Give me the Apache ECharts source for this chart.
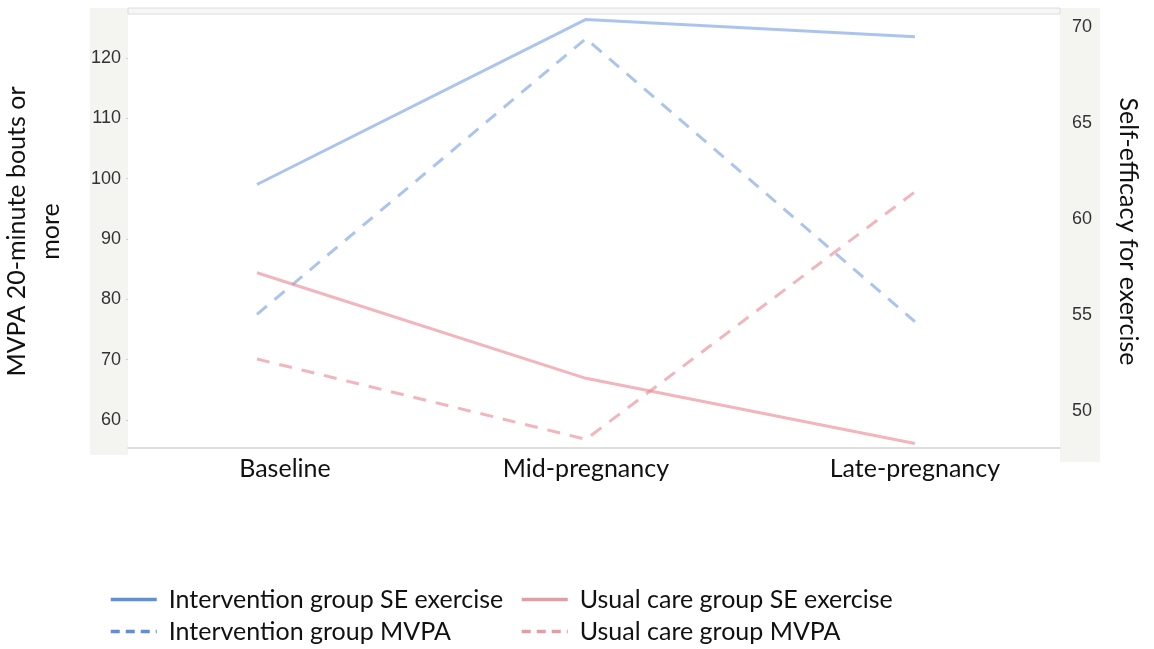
<!DOCTYPE html>
<html>
<head>
<meta charset="utf-8">
<script src="https://cdn.jsdelivr.net/npm/echarts@6/dist/echarts.min.js"></script>
<style>
  html, body { margin: 0; padding: 0; background: #fff; }
  #chart { width: 1154px; height: 649px; }
</style>
</head>
<body>
<div id="chart"></div>
<script>
// time points
const categories = ['Baseline', 'Mid-pregnancy', 'Late-pregnancy'];

// self-efficacy (right axis)
const interventionSE = [61.8, 70.4, 69.5];
const usualSE = [57.2, 51.7, 48.3];

// MVPA 20-minute bouts (left axis)
const interventionMVPA = [77.5, 123.2, 76.3];
const usualMVPA = [70.1, 56.8, 97.8];

const leftTicks = [60, 70, 80, 90, 100, 110, 120];
const rightTicks = [50, 55, 60, 65, 70];

const blue = 'rgba(120,160,228,0.62)';
const red = 'rgba(232,135,145,0.62)';
const labelFont = 'Lato, "Noto Sans", sans-serif';
const tickFont = '"Liberation Sans", Arial, sans-serif';

const pairs = (arr) => arr.map((v, i) => [i, v]);

const chart = echarts.init(document.getElementById('chart'));

const legendText = { fontSize: 25, fontFamily: labelFont, color: '#111', padding: [0, 0, 0, 7] };

const option = {
  animation: false,
  backgroundColor: '#fff',
  grid: { left: 128, right: 94, top: 15, bottom: 201, outerBoundsMode: 'none', containLabel: false },
  graphic: [
    // shaded axis strips and top rule
    { type: 'rect', z: -1, shape: { x: 90, y: 8, width: 38, height: 447 }, style: { fill: '#f4f4f1' } },
    { type: 'rect', z: -1, shape: { x: 1060, y: 8, width: 40, height: 454 }, style: { fill: '#f4f4f1' } },
    { type: 'rect', z: -1, shape: { x: 128, y: 8, width: 932, height: 6 }, style: { fill: '#f7f7f7', stroke: '#dcdcdc', lineWidth: 1 } }
  ],
  xAxis: {
    type: 'value',
    min: -0.392,
    max: 2.441,
    splitLine: { show: false },
    axisLine: { show: true, onZero: false, lineStyle: { color: '#d4d4d4', width: 1.5 } },
    axisTick: { show: false },
    axisLabel: {
      customValues: [0, 1, 2],
      formatter: (v) => (v === 0 ? '{b|' + categories[0] + '}' : categories[v]),
      rich: { b: { padding: [0, 0, 0, 56], fontSize: 25, fontFamily: labelFont, color: '#111' } },
      fontSize: 25,
      fontFamily: labelFont,
      color: '#111',
      margin: 8
    }
  },
  yAxis: [
    {
      type: 'value',
      position: 'left',
      min: 55.36,
      max: 127.1,
      name: 'MVPA 20-minute bouts or\nmore',
      nameLocation: 'middle',
      nameGap: 60,
      nameRotate: 90,
      nameTextStyle: { fontSize: 25, fontFamily: labelFont, color: '#111', lineHeight: 34 },
      splitLine: { show: false },
      axisLine: { show: false, onZero: false },
      axisTick: { show: true, customValues: leftTicks, length: 2, lineStyle: { color: '#cfcfcf' } },
      axisLabel: {
        customValues: leftTicks,
        fontSize: 18,
        fontFamily: tickFont,
        color: '#333',
        margin: 7
      }
    },
    {
      type: 'value',
      position: 'right',
      min: 48.07,
      max: 70.63,
      name: 'Self-efficacy for exercise',
      nameLocation: 'middle',
      nameGap: 56,
      nameRotate: -90,
      nameTextStyle: { fontSize: 25, fontFamily: labelFont, color: '#111' },
      splitLine: { show: false },
      axisLine: { show: false, onZero: false },
      axisTick: { show: false },
      axisLabel: {
        customValues: rightTicks,
        fontSize: 18,
        fontFamily: tickFont,
        color: '#333',
        margin: 12
      }
    }
  ],
  legend: [
    {
      left: 104,
      top: 582,
      orient: 'vertical',
      itemWidth: 46,
      itemHeight: 14,
      itemGap: 7,
      textStyle: legendText,
      itemStyle: { opacity: 0 },
      data: [
        { name: 'Intervention group SE exercise', lineStyle: { color: '#5f8fd6', width: 3.5 } },
        { name: 'Intervention group MVPA', lineStyle: { color: '#5f8fd6', width: 3.5, type: [9, 6] } }
      ]
    },
    {
      left: 515,
      top: 582,
      orient: 'vertical',
      itemWidth: 46,
      itemHeight: 14,
      itemGap: 7,
      textStyle: legendText,
      itemStyle: { opacity: 0 },
      data: [
        { name: 'Usual care group SE exercise', lineStyle: { color: '#e39ea3', width: 3.5 } },
        { name: 'Usual care group MVPA', lineStyle: { color: '#e39ea3', width: 3.5, type: [9, 6] } }
      ]
    }
  ],
  series: [
    {
      name: 'Intervention group SE exercise',
      type: 'line',
      yAxisIndex: 1,
      data: pairs(interventionSE),
      symbol: 'none',
      itemStyle: { color: blue },
      lineStyle: { color: blue, width: 3 }
    },
    {
      name: 'Intervention group MVPA',
      type: 'line',
      yAxisIndex: 0,
      data: pairs(interventionMVPA),
      symbol: 'none',
      itemStyle: { color: blue },
      lineStyle: { color: blue, width: 3, type: [13, 10] }
    },
    {
      name: 'Usual care group SE exercise',
      type: 'line',
      yAxisIndex: 1,
      data: pairs(usualSE),
      symbol: 'none',
      itemStyle: { color: red },
      lineStyle: { color: red, width: 3 }
    },
    {
      name: 'Usual care group MVPA',
      type: 'line',
      yAxisIndex: 0,
      data: pairs(usualMVPA),
      symbol: 'none',
      itemStyle: { color: red },
      lineStyle: { color: red, width: 3, type: [13, 10] }
    }
  ]
};

chart.setOption(option);
</script>
</body>
</html>
